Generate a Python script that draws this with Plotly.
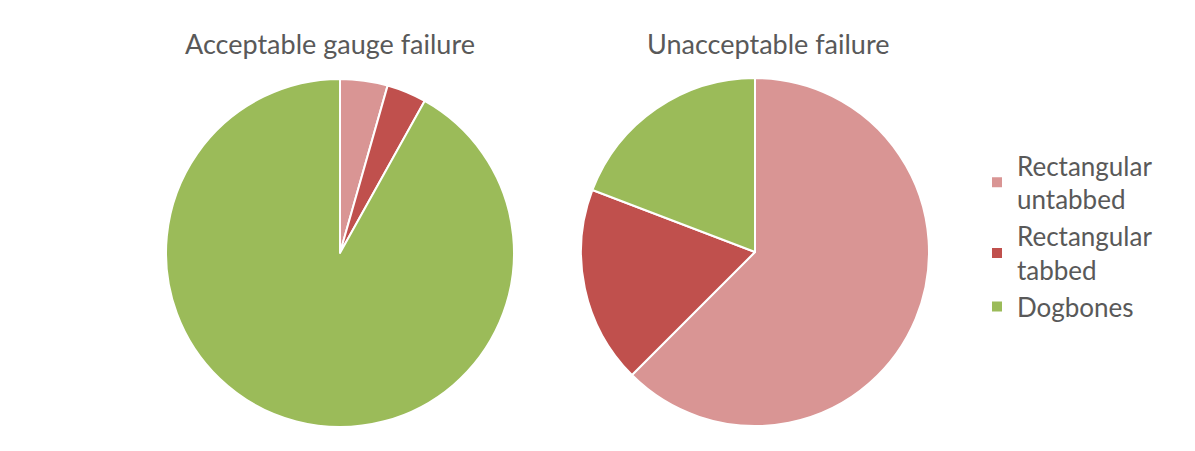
import plotly.graph_objects as go

categories = ["Rectangular<br>untabbed", "Rectangular<br>tabbed", "Dogbones"]
acceptable = [6, 5, 125]
unacceptable = [62.5, 18.3, 19.2]
titles = ["Acceptable gauge failure", "Unacceptable failure"]
colors = ["#D99594", "#C0504D", "#9BBB59"]

W, H = 1195, 451
OFF = 8  # page body margin
FONT = "Lato"
GRAY = "#595959"

def dom_x(a, b):
    return [(a - OFF) / W, (b - OFF) / W]

def dom_y(top, bottom):
    return [(H - (bottom - OFF)) / H, (H - (top - OFF)) / H]

fig = go.Figure()
fig.add_trace(go.Pie(
    labels=categories, values=acceptable, sort=False, direction="clockwise",
    rotation=0, textinfo="none", hoverinfo="label+value+percent",
    marker=dict(colors=colors, line=dict(color="white", width=2)),
    domain=dict(x=dom_x(166, 514), y=dom_y(79, 427)),
))
fig.add_trace(go.Pie(
    labels=categories, values=unacceptable, sort=False, direction="clockwise",
    rotation=0, textinfo="none", hoverinfo="label+value+percent",
    marker=dict(colors=colors, line=dict(color="white", width=2)),
    domain=dict(x=dom_x(581, 929), y=dom_y(78, 426)),
))

annotations = [
    dict(text=titles[0], x=(330 - OFF) / W, y=1 - (43 - OFF) / H, xref="paper", yref="paper",
         showarrow=False, xanchor="center", yanchor="middle",
         font=dict(family=FONT, size=27, color=GRAY)),
    dict(text=titles[1], x=(768 - OFF) / W, y=1 - (43 - OFF) / H, xref="paper", yref="paper",
         showarrow=False, xanchor="center", yanchor="middle",
         font=dict(family=FONT, size=27, color=GRAY)),
]

fig.update_layout(
    width=W, height=H,
    margin=dict(l=0, r=0, t=0, b=0),
    paper_bgcolor="white", plot_bgcolor="white",
    annotations=annotations,
    showlegend=True,
    legend=dict(x=(977 - OFF) / W, y=1 - (142 - OFF) / H, xanchor="left", yanchor="top",
                font=dict(family=FONT, size=26, color=GRAY),
                tracegroupgap=0, itemwidth=30, bgcolor="rgba(0,0,0,0)"),
)

fig.write_html("out.html")
